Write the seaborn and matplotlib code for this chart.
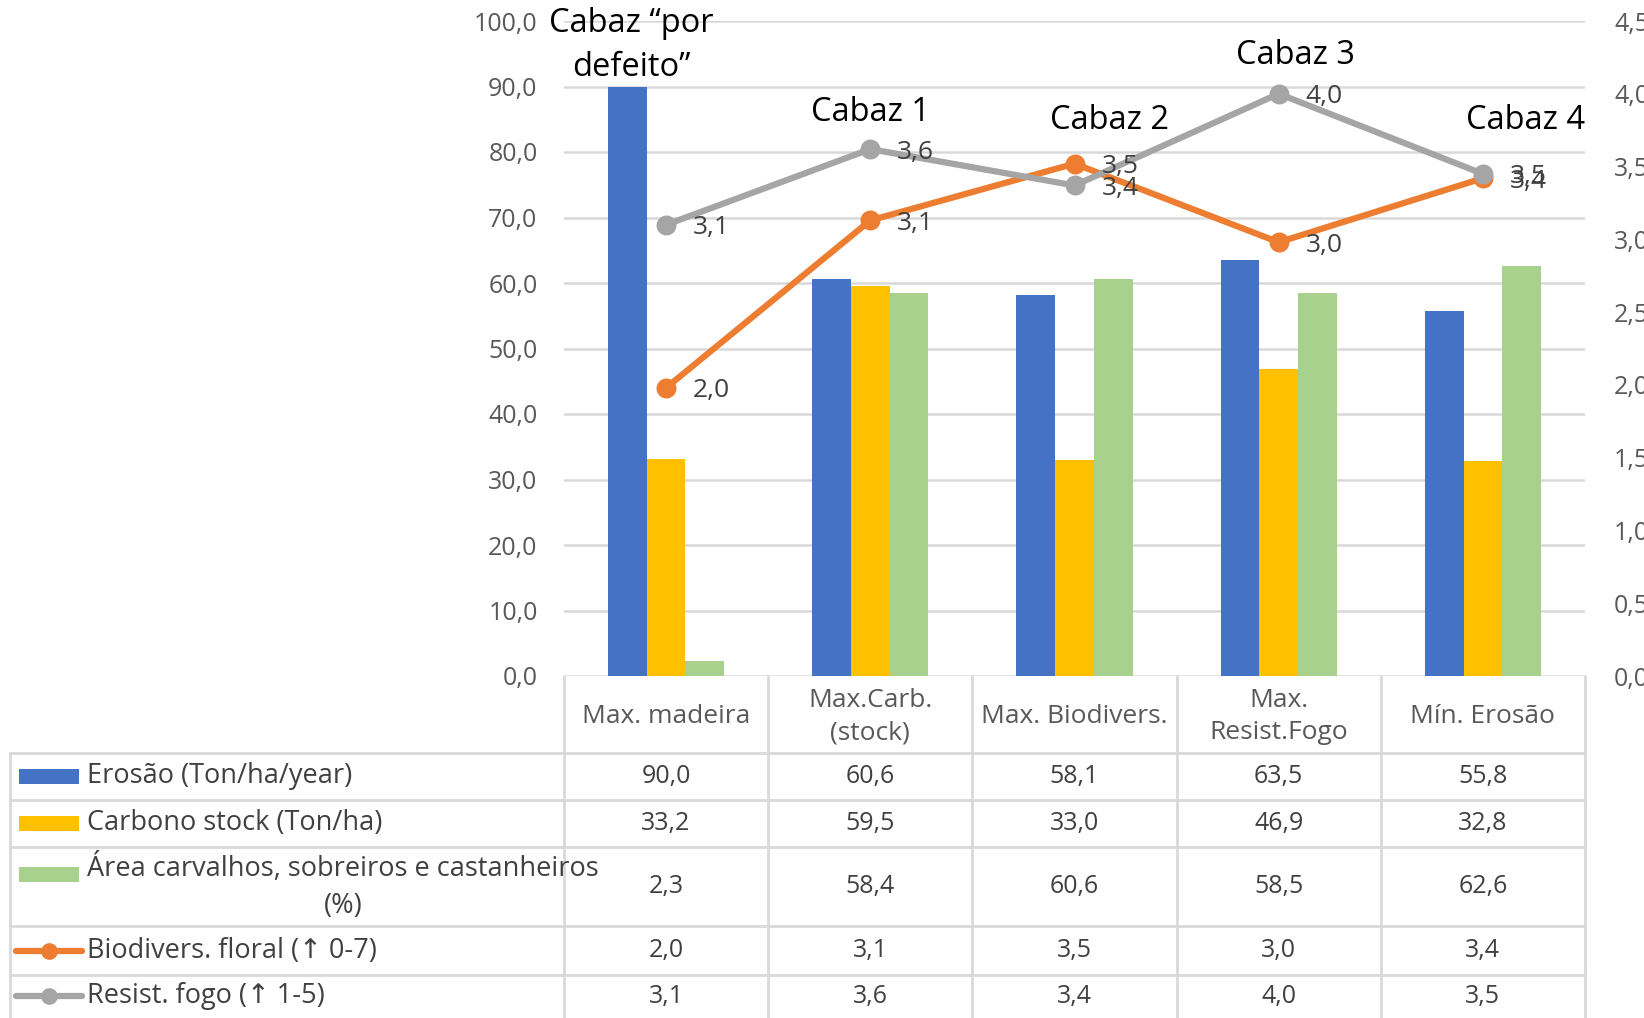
import numpy as np
import pandas as pd
import matplotlib
matplotlib.use('Agg')
import matplotlib.pyplot as plt
import seaborn as sns
from matplotlib.lines import Line2D
from matplotlib.patches import Rectangle
from matplotlib.ticker import FuncFormatter, MultipleLocator

# data
cenarios = ['Max. madeira', 'Max.Carb.\n(stock)', 'Max. Biodivers.', 'Max.\nResist.Fogo', 'Mín. Erosão']
cabazes = ['Cabaz \u201cpor\ndefeito\u201d', 'Cabaz 1', 'Cabaz 2', 'Cabaz 3', 'Cabaz 4']
erosao = [90.0, 60.6, 58.1, 63.5, 55.8]
carbono = [33.2, 59.5, 33.0, 46.9, 32.8]
area_carv = [2.3, 58.4, 60.6, 58.5, 62.6]
biodiv = [1.98, 3.13, 3.52, 2.98, 3.42]
resist = [3.10, 3.62, 3.37, 4.00, 3.45]

bar_names = ['Erosão (Ton/ha/year)', 'Carbono stock (Ton/ha)', 'Área carvalhos, sobreiros e castanheiros\n(%)']
line_names = ['Biodivers. floral (\u2191 0-7)', 'Resist. fogo (\u2191 1-5)']
bar_cols = ['#4472C4', '#FFC000', '#A9D18E']
line_cols = ['#ED7D31', '#A5A5A5']

def fmt(v):
    return f'{v:.1f}'.replace('.', ',')

sns.set_style('white')
plt.rcParams['font.family'] = ['Open Sans', 'DejaVu Sans']

W, H = 1644, 1018
AX_L, AX_R, AX_T, AX_B = 564, 1585, 21, 676
fig = plt.figure(figsize=(W / 100, H / 100), dpi=100)
ax = fig.add_axes([AX_L / W, 1 - AX_B / H, (AX_R - AX_L) / W, (AX_B - AX_T) / H])

df = pd.DataFrame({'cen': cenarios * 3,
                   'serie': sum([[n] * 5 for n in bar_names], []),
                   'val': erosao + carbono + area_carv})
sns.barplot(data=df, x='cen', y='val', hue='serie', palette=bar_cols, width=0.57,
            saturation=1, legend=False, ax=ax, zorder=2, linewidth=0)
ax.set_ylim(0, 100)
ax.set_xlim(-0.5, 4.5)
ax.yaxis.set_major_locator(MultipleLocator(10))
ax.yaxis.set_major_formatter(FuncFormatter(lambda v, p: fmt(v)))
ax.grid(axis='y', color='#D9D9D9', lw=1.8, zorder=0)
ax.set_axisbelow(True)
ax.tick_params(axis='y', length=0, pad=19, labelsize=18, labelcolor='#595959')
ax.set_xticks([])
ax.set_xlabel('')
ax.set_ylabel('')
for s in ax.spines.values():
    s.set_visible(False)

ax2 = ax.twinx()
for vals, col in zip([biodiv, resist], line_cols):
    sns.pointplot(x=list(range(5)), y=vals, native_scale=True, color=col, markers='o',
                  linestyles='-', errorbar=None, ax=ax2, markersize=11, linewidth=4.5)
    for i, v in enumerate(vals):
        ax2.annotate(fmt(v), (i, v), xytext=(27, -3), textcoords='offset pixels',
                     ha='left', va='center', fontsize=19, color='#404040')
ax2.set_ylim(0, 4.5)
ax2.set_xlim(-0.5, 4.5)
ax2.yaxis.set_major_locator(MultipleLocator(0.5))
ax2.yaxis.set_major_formatter(FuncFormatter(lambda v, p: fmt(v)))
ax2.tick_params(axis='y', length=0, pad=21, labelsize=18, labelcolor='#595959')
ax2.set_ylabel('')
ax2.grid(False)
for s in ax2.spines.values():
    s.set_visible(False)

# Cabaz labels
cab_pos = [(-0.17, 96.3), (0.0, 86.1), (0.17, 84.8), (0.08, 94.7), (0.21, 84.8)]
for i, (t, (dx, y)) in enumerate(zip(cabazes, cab_pos)):
    ax.text(i + dx, y, t, ha='center', va='center', fontsize=23.5, color='black',
            clip_on=False, zorder=5, linespacing=1.45)

# table below
tab = fig.add_axes([0, 0, 1, 1], zorder=-1)
tab.set_xlim(0, W)
tab.set_ylim(H, 0)
tab.axis('off')
gc = '#D9D9D9'
cw = (AX_R - AX_L) / 5
rows = [676, 753, 800, 847, 926, 975, 1017]
for y in rows[1:-1]:
    tab.plot([10, AX_R], [y, y], color=gc, lw=2)
for k in range(6):
    x = AX_L + k * cw
    tab.plot([x, x], [676, H], color=gc, lw=2)
tab.plot([10, 10], [753, H], color=gc, lw=2)

for k, c in enumerate(cenarios):
    tab.text(AX_L + (k + 0.5) * cw, (rows[0] + rows[1]) / 2 + 2, c, ha='center', va='center',
             fontsize=19, color='#595959', linespacing=1.4)

all_series = [erosao, carbono, area_carv, biodiv, resist]
all_names = bar_names + line_names
for r, (vals, name) in enumerate(zip(all_series, all_names)):
    yc = (rows[r + 1] + rows[r + 2]) / 2
    for k, v in enumerate(vals):
        tab.text(AX_L + (k + 0.5) * cw, yc, fmt(v), ha='center', va='center',
                 fontsize=18, color='#404040')
    if r < 3:
        ym = yc - 12 if r == 2 else yc
        tab.add_patch(Rectangle((19, ym - 7.5), 60, 15, color=bar_cols[r], lw=0))
        tab.text(87, yc, name, ha='left', va='center', fontsize=19.5, color='#404040',
                 multialignment='center', linespacing=1.4)
    else:
        col = line_cols[r - 3]
        tab.add_line(Line2D([16, 82], [yc, yc], color=col, lw=4.5))
        tab.add_line(Line2D([49], [yc], marker='o', color=col, markersize=11))
        tab.text(87, yc, name, ha='left', va='center', fontsize=19.5, color='#404040')

fig.savefig('out.png', dpi=100)
